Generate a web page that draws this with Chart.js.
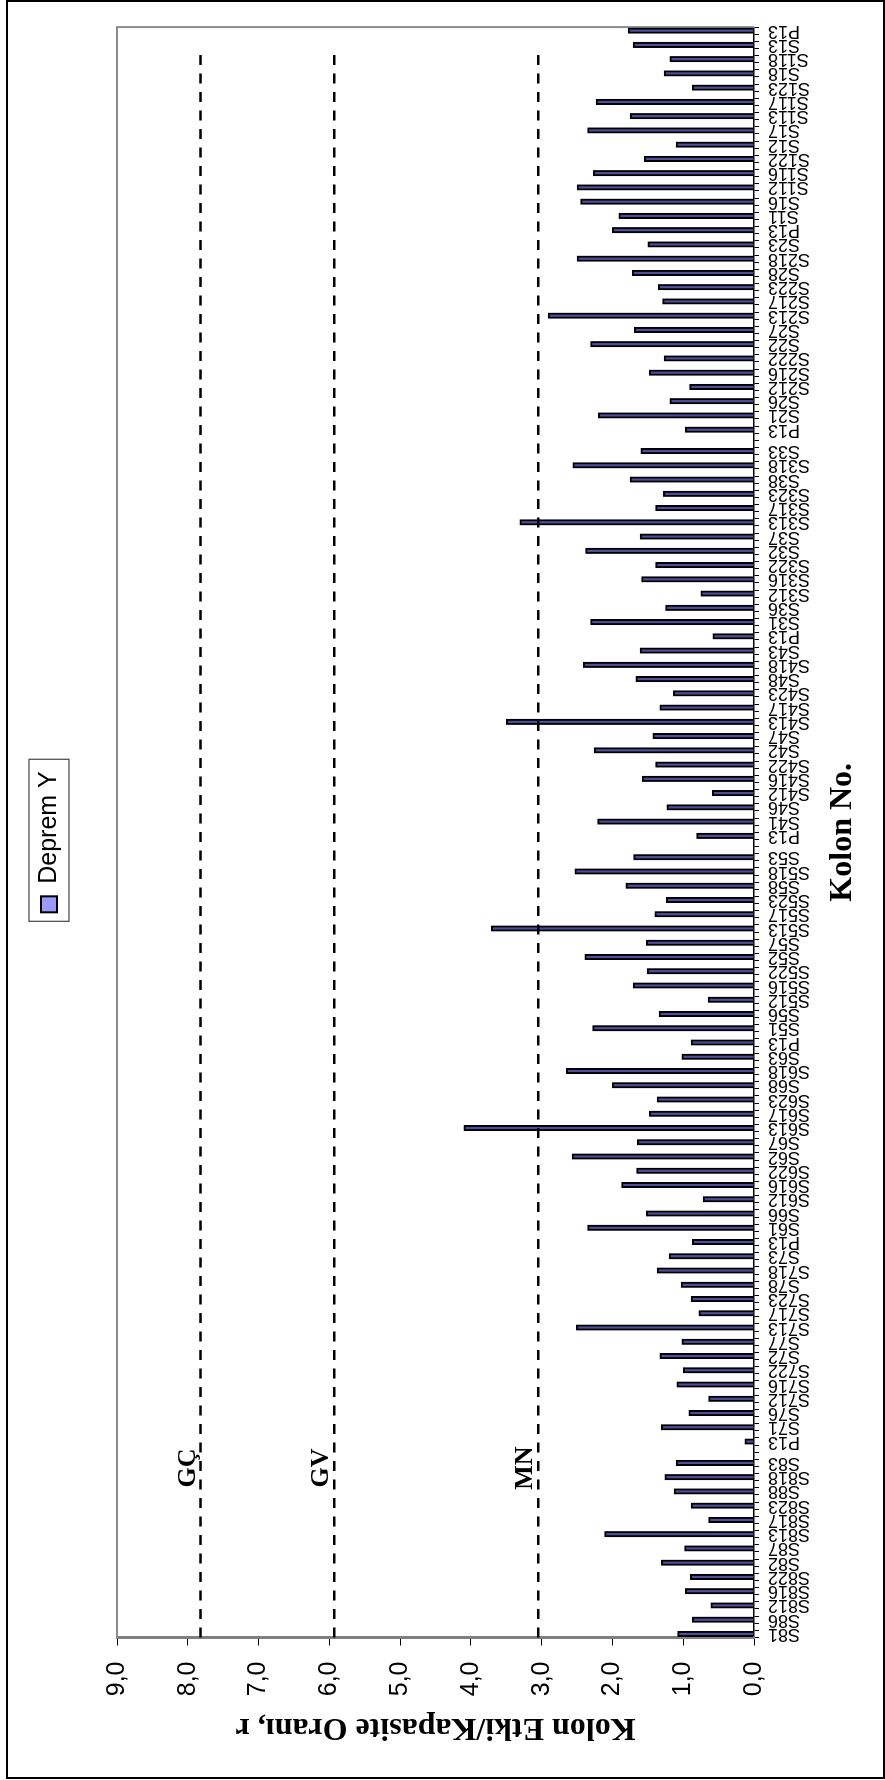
<!DOCTYPE html>
<html>
<head>
<meta charset="utf-8">
<script src="https://cdn.jsdelivr.net/npm/chart.js@4.4.1/dist/chart.umd.min.js"></script>
<style>
html,body{margin:0;padding:0;background:#fff;overflow:hidden;}
#page{position:relative;width:885px;height:1780px;background:#fff;}
#rot{position:absolute;left:0;top:0;width:1780px;height:885px;transform-origin:0 0;transform:translate(0px,1780px) rotate(-90deg);}
#frame{position:absolute;left:6px;top:0;width:879px;height:1779px;border:2px solid #000;box-sizing:border-box;pointer-events:none;}
canvas{display:block;}
</style>
</head>
<body>
<div id="page">
  <div id="rot"><canvas id="c" width="1780" height="885"></canvas></div>
  <div id="frame"></div>
</div>
<script>
// ---- data ----
const columns = [
  'S81','S86','S812','S816','S822','S82','S87','S813','S817','S823','S88','S818','S83',
  'P13','S71','S76','S712','S716','S722','S72','S77','S713','S717','S723','S78','S718','S73',
  'P13','S61','S66','S612','S616','S622','S62','S67','S613','S617','S623','S68','S618','S63',
  'P13','S51','S56','S512','S516','S522','S52','S57','S513','S517','S523','S58','S518','S53',
  'P13','S41','S46','S412','S416','S422','S42','S47','S413','S417','S423','S48','S418','S43',
  'P13','S31','S36','S312','S316','S322','S32','S37','S313','S317','S323','S38','S318','S33',
  'P13','S21','S26','S212','S216','S222','S22','S27','S213','S217','S223','S28','S218','S23',
  'P13','S11','S16','S112','S116','S122','S12','S17','S113','S117','S123','S18','S118','S13',
  'P13'
];
const depremY = [
  1.08,0.87,0.61,0.97,0.90,1.31,0.98,2.11,0.64,0.89,1.13,1.26,1.10,
  0.13,1.31,0.92,0.64,1.09,1.00,1.33,1.02,2.51,0.78,0.89,1.03,1.37,1.20,
  0.87,2.35,1.52,0.72,1.87,1.66,2.57,1.65,4.10,1.48,1.37,2.00,2.65,1.02,
  0.89,2.28,1.34,0.65,1.71,1.51,2.39,1.52,3.71,1.40,1.24,1.81,2.53,1.70,
  0.81,2.21,1.23,0.59,1.58,1.39,2.26,1.43,3.50,1.33,1.14,1.67,2.41,1.61,
  0.58,2.31,1.25,0.75,1.59,1.39,2.38,1.61,3.31,1.39,1.28,1.75,2.56,1.60,
  0.97,2.20,1.19,0.91,1.48,1.27,2.31,1.69,2.91,1.29,1.35,1.72,2.50,1.50,
  2.00,1.91,2.45,2.50,2.27,1.55,1.10,2.35,1.75,2.23,0.87,1.27,1.19,1.71,
  1.78
];
const gapAfterColumn = [12, 54, 82];          // extra empty slot after S83, S53, S33
const seriesName = 'Deprem Y';
const thresholdNames = ['GÇ', 'GV', 'MN'];
const thresholdValues = [7.82, 5.93, 3.05];
const valueTicks = [0,1,2,3,4,5,6,7,8,9];
const xTitle = 'Kolon No.';
const yTitle = 'Kolon Etki/Kapasite Oranı, r';

// ---- build category table (one empty slot between columns) ----
const categories = [];
const barValues = [];
columns.forEach((name, i) => {
  categories.push(name); barValues.push(depremY[i]);
  if (i < columns.length - 1) { categories.push(''); barValues.push(null); }
  if (gapAfterColumn.includes(i)) { categories.push(''); barValues.push(null); }
});

const SANS = "'Liberation Sans', Arial, sans-serif";
const SERIF = "'Liberation Serif', 'Times New Roman', serif";
Chart.defaults.font.family = SANS;
Chart.defaults.color = '#000';

const plotFrame = {
  id: 'plotFrame',
  beforeDatasetsDraw(chart) {
    const {ctx, chartArea: a} = chart;
    ctx.save();
    ctx.strokeStyle = '#8c8c8c';
    ctx.lineWidth = 2;
    ctx.beginPath();
    ctx.moveTo(a.left, a.top);
    ctx.lineTo(a.right, a.top);
    ctx.lineTo(a.right, a.bottom);
    ctx.stroke();
    ctx.restore();
  }
};

const thresholdLines = {
  id: 'thresholdLines',
  afterDatasetsDraw(chart) {
    const {ctx, chartArea: a, scales: {x, y}} = chart;
    const xEnd = x.getPixelForValue(categories.length - 4);
    const xText = x.getPixelForValue(23) + 2;
    ctx.save();
    thresholdValues.forEach((v, k) => {
      const py = y.getPixelForValue(v);
      ctx.setLineDash([10, 8.5]);
      ctx.lineWidth = 2.5;
      ctx.strokeStyle = '#000';
      ctx.beginPath();
      ctx.moveTo(a.left, py);
      ctx.lineTo(xEnd, py);
      ctx.stroke();
      ctx.setLineDash([]);
      ctx.font = 'bold 26px ' + SERIF;
      ctx.textAlign = 'center';
      ctx.textBaseline = 'alphabetic';
      ctx.fillStyle = '#000';
      ctx.fillText(thresholdNames[k], xText, py - 6);
    });
    ctx.restore();
  }
};

const legendBox = {
  id: 'legendBox',
  afterLayout(chart) {
    const lg = chart.legend, a = chart.chartArea;
    const d = (a.left + a.right) / 2 - 9.5 - (lg.left + lg.right) / 2;
    lg.left += d; lg.right += d;
  },
  afterDraw(chart) {
    const hb = chart.legend.legendHitBoxes[0];
    if (!hb) return;
    const ctx = chart.ctx;
    ctx.save();
    ctx.strokeStyle = '#444';
    ctx.lineWidth = 1.2;
    ctx.strokeRect(hb.left - 9, hb.top - 7.5, hb.width + 21, hb.height + 15);
    ctx.restore();
  }
};

new Chart(document.getElementById('c'), {
  type: 'bar',
  data: {
    labels: categories,
    datasets: [{
      label: seriesName,
      data: barValues,
      backgroundColor: '#4e4e9c',
      borderColor: '#000',
      borderWidth: 2,
      barThickness: 5.5,
      borderSkipped: 'start'
    }]
  },
  options: {
    responsive: false,
    animation: false,
    devicePixelRatio: 1,
    layout: {padding: {left: 10, right: 20, top: 26.5, bottom: 0}},
    plugins: {
      legend: {
        display: true,
        position: 'top',
        labels: {
          font: {family: SANS, size: 25}, color: '#000', boxWidth: 16, boxHeight: 16, padding: 10,
          generateLabels: chart => Chart.defaults.plugins.legend.labels.generateLabels(chart)
            .map(item => Object.assign(item, {fillStyle: '#9999FF', lineWidth: 2}))
        }
      },
      title: {display: true, text: '', weight: 500, font: {size: 10}, padding: {top: 0, bottom: 33.5}},
      tooltip: {enabled: false}
    },
    scales: {
      x: {
        offset: true,
        grid: {display: true, drawOnChartArea: false, drawTicks: true, tickLength: 5, color: '#000', lineWidth: 1, offset: true},
        border: {display: true, color: '#000', width: 1.5},
        ticks: {autoSkip: false, minRotation: 90, maxRotation: 90, padding: 9, color: '#000', font: {family: SANS, size: 18}},
        title: {display: true, text: xTitle, color: '#000', font: {family: SERIF, size: 32, weight: 'bold'}, padding: {top: 0, bottom: 22.8}},
        afterFit: s => { s.height = 131; }
      },
      y: {
        min: valueTicks[0],
        max: valueTicks[valueTicks.length - 1],
        grid: {drawOnChartArea: false, drawTicks: true, tickLength: 8, color: '#000', lineWidth: 1},
        border: {display: true, color: '#808080', width: 3},
        ticks: {stepSize: 1, padding: 16, color: '#000', font: {family: SANS, size: 25},
                callback: v => Number(v).toFixed(1).replace('.', ',')},
        title: {display: true, text: yTitle, color: '#000', font: {family: SERIF, size: 32, weight: 'bold'}, padding: {top: 23.3, bottom: 0}},
        afterFit: s => { s.width = 132.5; }
      }
    }
  },
  plugins: [plotFrame, thresholdLines, legendBox]
});
</script>
</body>
</html>
